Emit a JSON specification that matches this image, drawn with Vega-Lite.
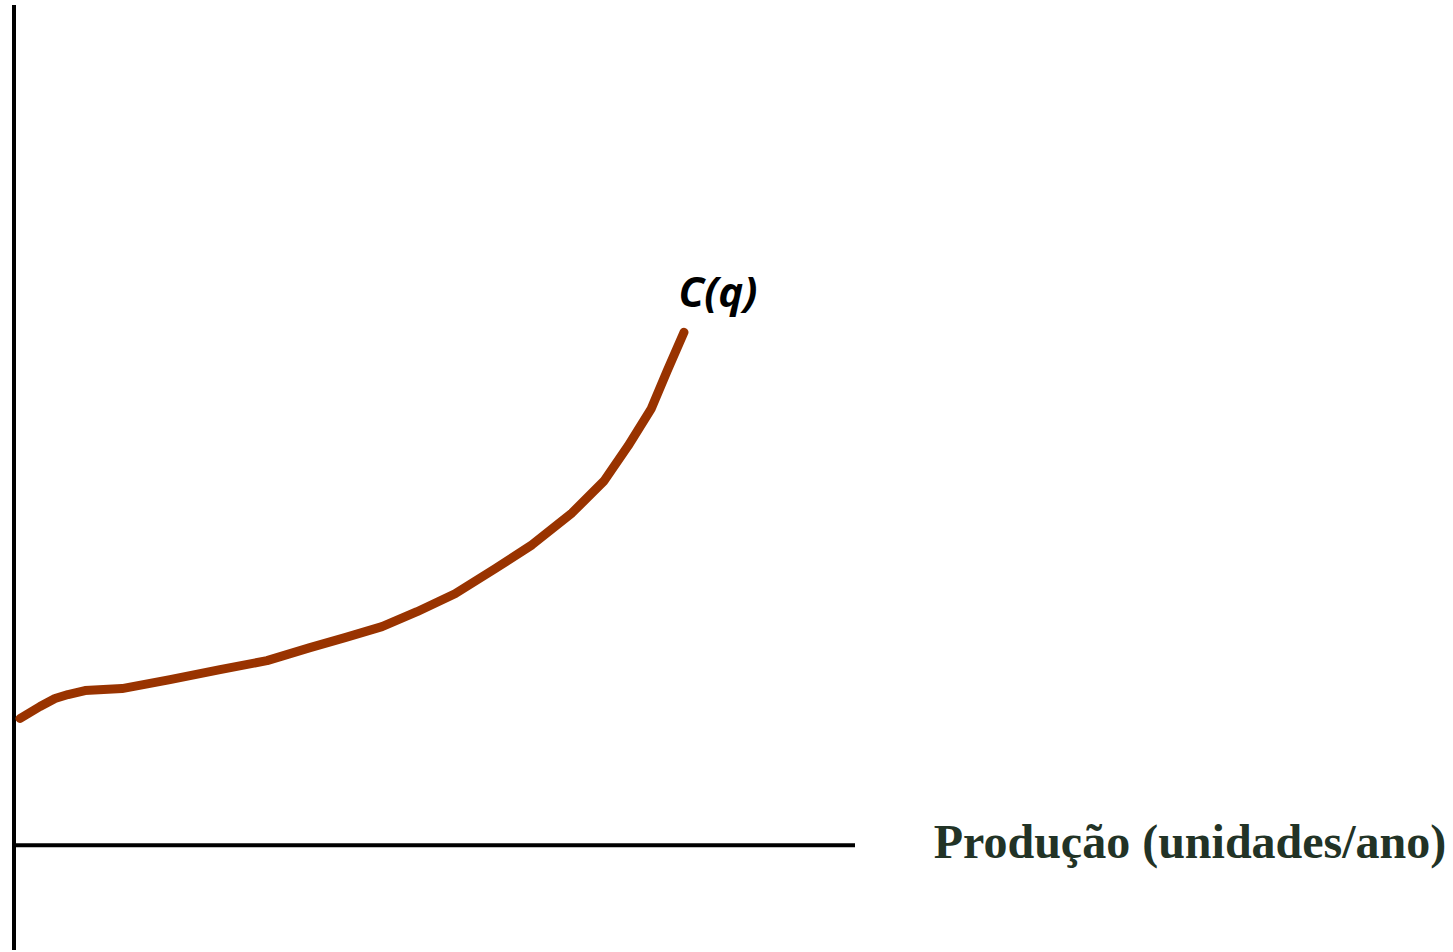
{
  "$schema": "https://vega.github.io/schema/vega-lite/v6.json",
  "width": 1453,
  "height": 952,
  "autosize": {"type": "fit", "contains": "padding"},
  "padding": 0,
  "background": "white",
  "config": {"view": {"stroke": null}},
  "datasets": {
    "curve": [
      {"q": 6, "c": 125}, {"q": 26, "c": 137}, {"q": 41, "c": 145}, {"q": 54, "c": 149},
      {"q": 71, "c": 153}, {"q": 108, "c": 155}, {"q": 156, "c": 164}, {"q": 206, "c": 174},
      {"q": 253, "c": 183}, {"q": 296, "c": 196}, {"q": 331, "c": 206}, {"q": 368, "c": 217},
      {"q": 403, "c": 232}, {"q": 441, "c": 250}, {"q": 481, "c": 275}, {"q": 518, "c": 299},
      {"q": 558, "c": 331}, {"q": 590, "c": 363}, {"q": 614, "c": 398}, {"q": 637, "c": 435},
      {"q": 653, "c": 473}, {"q": 670, "c": 512}
    ],
    "vaxis": [{"x": 0, "y1": -107, "y2": 840}],
    "haxis": [{"x1": 0, "x2": 841, "y": -2}],
    "labels": [
      {"x": 704, "y": 550, "text": "C(q)"}
    ],
    "xlabel": [
      {"x": 1176, "y": -1, "text": "Produção (unidades/ano)"}
    ]
  },
  "encoding": {
    "x": {"type": "quantitative", "scale": {"domain": [-14, 1439], "nice": false, "zero": false}, "axis": null},
    "y": {"type": "quantitative", "scale": {"domain": [-107, 845], "nice": false, "zero": false}, "axis": null}
  },
  "layer": [
    {
      "data": {"name": "vaxis"},
      "mark": {"type": "rule", "color": "black", "strokeWidth": 4},
      "encoding": {
        "x": {"field": "x", "type": "quantitative"},
        "y": {"field": "y1", "type": "quantitative"},
        "y2": {"field": "y2"}
      }
    },
    {
      "data": {"name": "haxis"},
      "mark": {"type": "rule", "color": "black", "strokeWidth": 4},
      "encoding": {
        "x": {"field": "x1", "type": "quantitative"},
        "x2": {"field": "x2"},
        "y": {"field": "y", "type": "quantitative"}
      }
    },
    {
      "data": {"name": "curve"},
      "mark": {"type": "line", "color": "#993300", "strokeWidth": 9, "strokeCap": "round", "strokeJoin": "round"},
      "encoding": {
        "x": {"field": "q", "type": "quantitative"},
        "y": {"field": "c", "type": "quantitative"}
      }
    },
    {
      "data": {"name": "labels"},
      "mark": {"type": "text", "font": "Open Sans", "fontWeight": "bold", "fontStyle": "italic", "fontSize": 42, "color": "black", "align": "center", "baseline": "middle"},
      "encoding": {
        "x": {"field": "x", "type": "quantitative"},
        "y": {"field": "y", "type": "quantitative"},
        "text": {"field": "text"}
      }
    },
    {
      "data": {"name": "xlabel"},
      "mark": {"type": "text", "font": "Liberation Serif", "fontWeight": "bold", "fontSize": 48, "color": "#223326", "align": "center", "baseline": "middle"},
      "encoding": {
        "x": {"field": "x", "type": "quantitative"},
        "y": {"field": "y", "type": "quantitative"},
        "text": {"field": "text"}
      }
    }
  ]
}
